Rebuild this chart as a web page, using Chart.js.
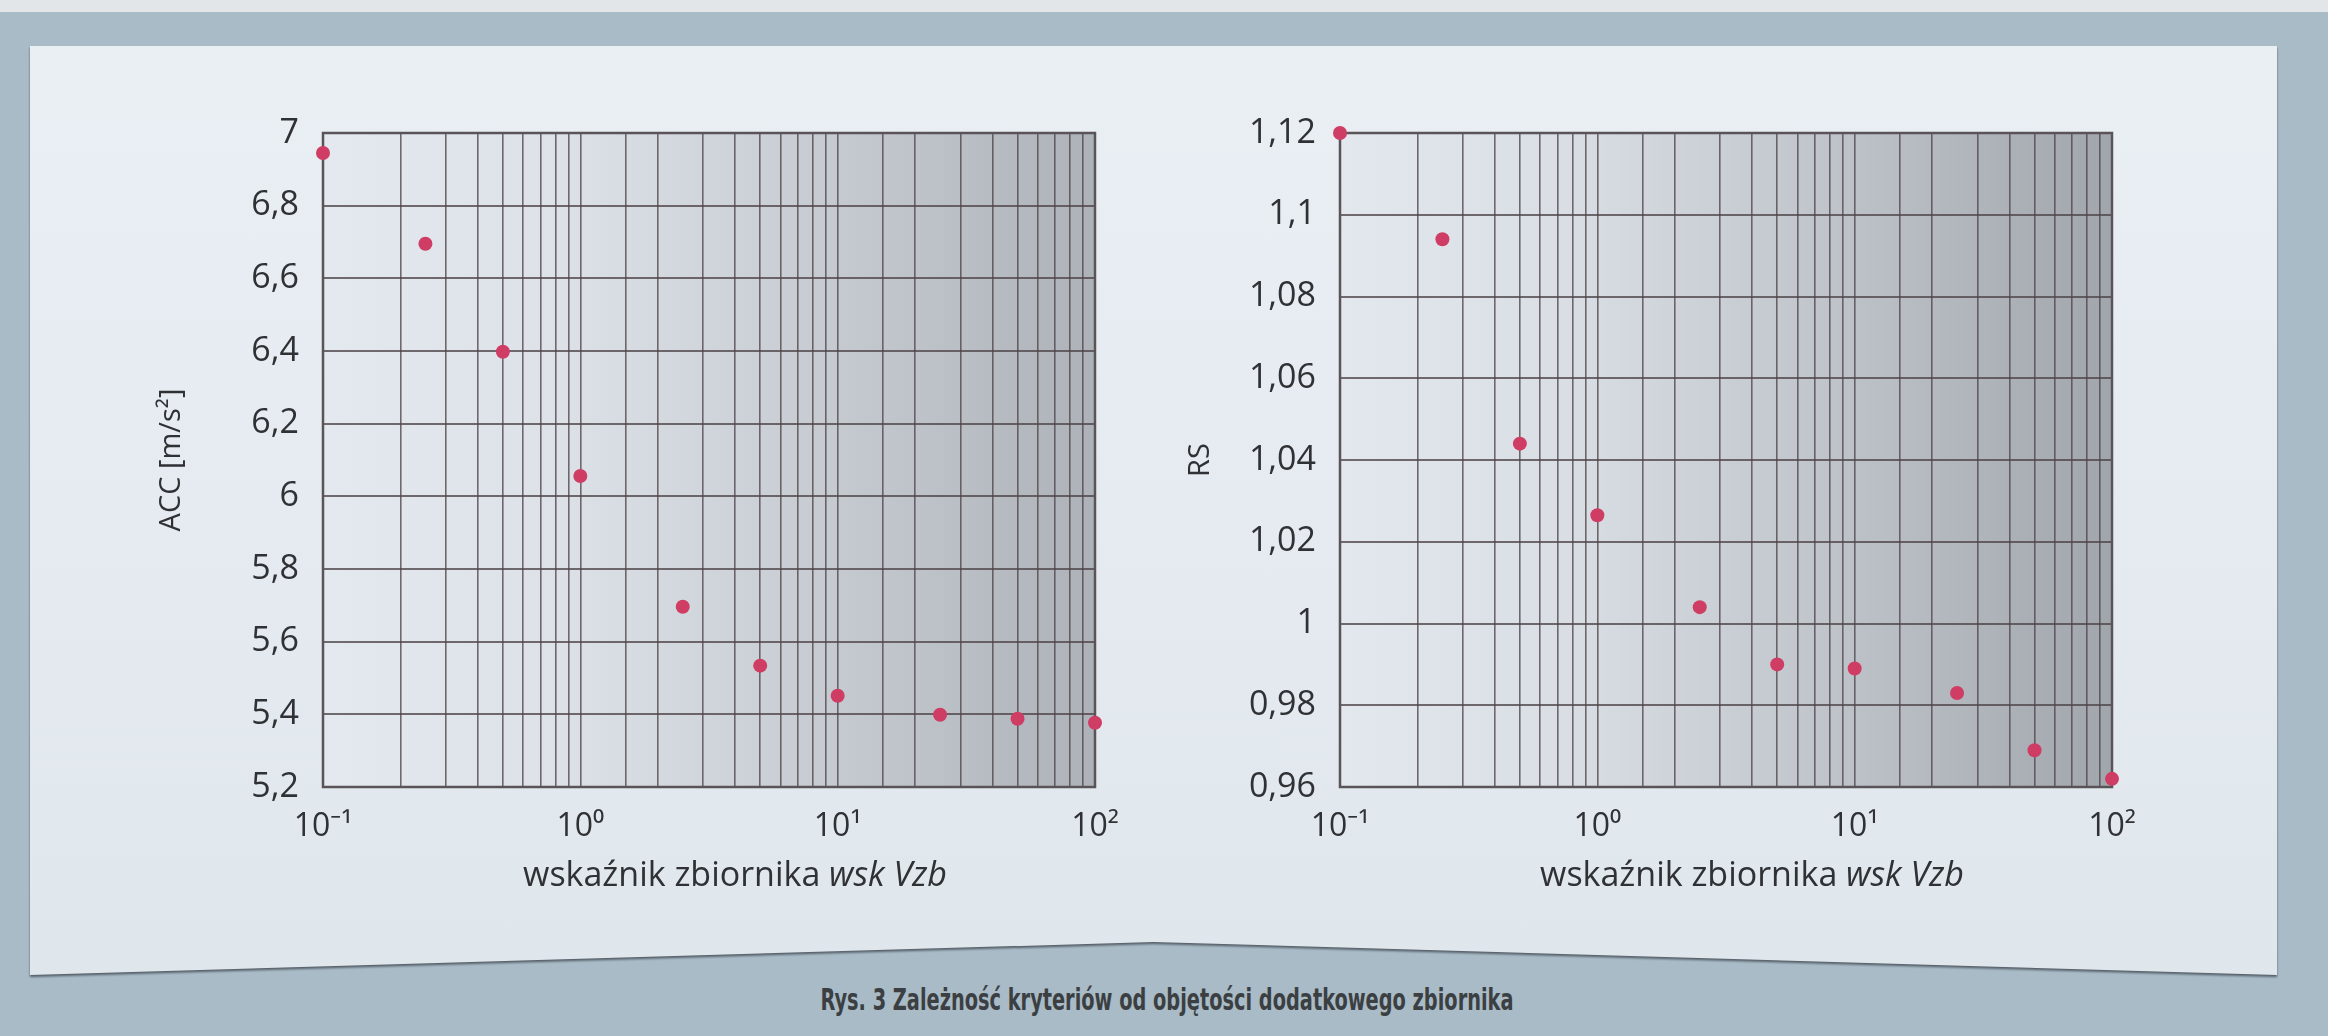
<!DOCTYPE html>
<html>
<head>
<meta charset="utf-8">
<title>Rys. 3</title>
<script src="https://cdn.jsdelivr.net/npm/chart.js@4.4.1/dist/chart.umd.min.js"></script>
<style>
    html, body { margin: 0; padding: 0; }
    body {
        width: 2328px; height: 1036px; position: relative; overflow: hidden;
        background: #e3e6e8;
        font-family: "Noto Sans", "Open Sans", sans-serif;
    }
    .frame { position: absolute; left: 0; top: 12px; width: 2328px; height: 1024px; background: #a8bbc7; }
    .panel-wrap { position: absolute; left: 30px; top: 46px; width: 2247px; height: 929px;
        filter: drop-shadow(0 2px 1px rgba(55, 62, 70, 0.75)); }
    .panel { width: 100%; height: 100%;
        background: linear-gradient(180deg, #eaeff4 0%, #e4eaf0 60%, #dfe6ec 100%);
        clip-path: polygon(0 0, 100% 0, 100% 100%, 50% calc(100% - 33px), 0 100%); }
    .caption { position: absolute; left: 1167px; top: 982px; white-space: nowrap;
        font-family: "Liberation Sans Narrow", "DejaVu Sans Condensed", sans-serif;
        font-size: 30px; font-weight: bold; color: #3c3f42;
        transform-origin: 0 0; }
    canvas { position: absolute; }
</style>
</head>
<body>
<div class="frame"></div>
<div class="panel-wrap"><div class="panel"></div></div>
<canvas id="accChart" width="1060" height="850" style="left:100px; top:80px;"></canvas>
<canvas id="rsChart" width="1060" height="850" style="left:1117px; top:80px;"></canvas>
<div class="caption" id="caption">Rys. 3 Zależność kryteriów od objętości dodatkowego zbiornika</div>

<script>
// Data
const vzb = [0.1, 0.25, 0.5, 1, 2.5, 5, 10, 25, 50, 100];
const acc = [6.945, 6.695, 6.398, 6.056, 5.696, 5.534, 5.451, 5.399, 5.388, 5.377];
const rs = [1.12, 1.094, 1.044, 1.0265, 1.004, 0.990, 0.989, 0.983, 0.969, 0.962];

const xMajor = [0.1, 1, 10, 100];
const xTickLabels = ['10⁻¹', '10⁰', '10¹', '10²'];

const accTicks = [5.2, 5.4, 5.6, 5.8, 6, 6.2, 6.4, 6.6, 6.8, 7];
const accTickLabels = ['5,2', '5,4', '5,6', '5,8', '6', '6,2', '6,4', '6,6', '6,8', '7'];

const rsTicks = [0.96, 0.98, 1, 1.02, 1.04, 1.06, 1.08, 1.1, 1.12];
const rsTickLabels = ['0,96', '0,98', '1', '1,02', '1,04', '1,06', '1,08', '1,1', '1,12'];

const xTitle = 'wskaźnik zbiornika ';
const xTitleItalic = 'wsk Vzb';

const gridColor = 'rgba(78, 68, 72, 0.78)';
const textColor = '#2f3134';
const pointColor = '#cf3c64';
const fontFamily = '"Open Sans", "Noto Sans", sans-serif';

// plot area shading (light on the left, grey towards the right)
const plotBackground = {
    id: 'plotBackground',
    beforeDraw(chart, args, opts) {
        const { ctx, chartArea: a } = chart;
        const g = ctx.createLinearGradient(a.left, 0, a.right, 0);
        opts.stops.forEach(s => g.addColorStop(s[0], s[1]));
        ctx.save();
        ctx.fillStyle = g;
        ctx.fillRect(a.left, a.top, a.right - a.left, a.bottom - a.top);
        ctx.restore();
    }
};

// frame around the plot area, under the points
const plotFrame = {
    id: 'plotFrame',
    beforeDatasetsDraw(chart) {
        const { ctx, chartArea: a } = chart;
        ctx.save();
        ctx.strokeStyle = '#5a5458';
        ctx.lineWidth = 2.5;
        ctx.strokeRect(a.left, a.top, a.right - a.left, a.bottom - a.top);
        ctx.restore();
    }
};

// x axis title: regular text followed by an italic part
const mixedTitle = {
    id: 'mixedTitle',
    afterDraw(chart, args, opts) {
        const { ctx, chartArea: a } = chart;
        const regular = '34px ' + fontFamily;
        const italic = 'italic 34px ' + fontFamily;
        ctx.save();
        ctx.font = regular;
        const w1 = ctx.measureText(xTitle).width;
        ctx.font = italic;
        const w2 = ctx.measureText(xTitleItalic).width;
        const x0 = (a.left + a.right) / 2 + opts.dx - (w1 + w2) / 2;
        const y = a.bottom + opts.dy;
        ctx.fillStyle = textColor;
        ctx.textBaseline = 'alphabetic';
        ctx.font = regular;
        ctx.fillText(xTitle, x0, y);
        ctx.font = italic;
        ctx.fillText(xTitleItalic, x0 + w1, y);
        ctx.restore();
    }
};

function xTickLabel(value) {
    const i = xMajor.findIndex(v => Math.abs(v - value) / v < 1e-6);
    return i >= 0 ? xTickLabels[i] : '';
}

function makeChart(id, values, yTicks, yLabels, yTitle, titlePad, stops) {
    return new Chart(document.getElementById(id), {
        type: 'scatter',
        data: {
            datasets: [{
                data: vzb.map((x, i) => ({ x: x, y: values[i] })),
                backgroundColor: pointColor,
                borderWidth: 0,
                pointRadius: 7,
                pointHoverRadius: 7,
                clip: false
            }]
        },
        options: {
            responsive: false,
            animation: false,
            devicePixelRatio: 1,
            layout: { padding: { top: 53, right: 65, left: 0, bottom: 0 } },
            plugins: {
                legend: { display: false },
                tooltip: { enabled: false },
                plotBackground: { stops: stops },
                mixedTitle: { dx: 26, dy: 99 }
            },
            scales: {
                x: {
                    type: 'logarithmic',
                    min: xMajor[0],
                    max: xMajor[xMajor.length - 1],
                    afterFit: s => { s.height = 143; },
                    grid: { color: gridColor, lineWidth: 1.6, drawTicks: false },
                    border: { display: false },
                    ticks: {
                        autoSkip: false, maxRotation: 0, padding: 21,
                        color: textColor,
                        font: { family: fontFamily, size: 32 },
                        callback: v => xTickLabel(v)
                    }
                },
                y: {
                    min: yTicks[0],
                    max: yTicks[yTicks.length - 1],
                    afterBuildTicks: s => { s.ticks = yTicks.map(v => ({ value: v })); },
                    afterFit: s => { s.width = 223; },
                    grid: { color: gridColor, lineWidth: 2, drawTicks: false },
                    border: { display: false },
                    ticks: {
                        padding: 24,
                        color: textColor,
                        font: { family: fontFamily, size: 34 },
                        callback: (v, i) => yLabels[i]
                    },
                    title: {
                        display: true,
                        text: yTitle,
                        color: textColor,
                        padding: { top: titlePad, bottom: 0 },
                        font: { family: fontFamily, size: 29 }
                    }
                }
            }
        },
        plugins: [plotBackground, plotFrame, mixedTitle]
    });
}

makeChart('accChart', acc, accTicks, accTickLabels, 'ACC [m/s²]', 54, [
    [0, '#e3e9ef'], [0.3, '#dce2e8'], [0.55, '#cdd2d8'], [0.8, '#bcc1c7'], [1, '#adb2b8']
]);
makeChart('rsChart', rs, rsTicks, rsTickLabels, 'RS', 66, [
    [0, '#e2e8ee'], [0.3, '#d8dee4'], [0.55, '#c6cbd1'], [0.8, '#b2b7bd'], [1, '#a1a6ac']
]);

// fit the condensed caption to the width it has in the figure
const cap = document.getElementById('caption');
const capW = cap.getBoundingClientRect().width;
const sx = 693 / capW;
cap.style.transform = 'translateX(' + (-693 / 2) + 'px) scaleX(' + sx + ')';
</script>
</body>
</html>
